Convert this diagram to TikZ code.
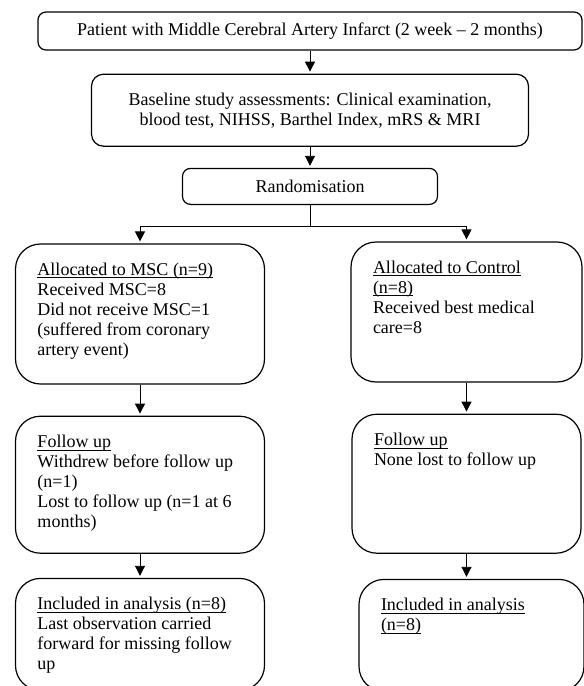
\documentclass[tikz,border=0pt]{standalone}
\usepackage{fontspec}
\setmainfont{Liberation Serif}
\usetikzlibrary{arrows.meta,positioning}

\newcommand{\paneltext}[3]{\parbox[t][#2][t]{#1}{\raggedright #3}}
\newcommand{\undl}[1]{\leavevmode\setbox0\hbox{#1}\rlap{\rule[-2.8pt]{\wd0}{0.8pt}}\box0}

\tikzset{
  box/.style={draw, line width=1.2pt, align=center, inner sep=0pt},
  panel/.style={draw, line width=1.2pt, rounded corners=25pt, inner xsep=22pt, inner ysep=19pt},
  arr/.style={-{Triangle[width=10pt,length=10pt]}, line width=0.9pt, shorten >=2pt}
}

\begin{document}
\begin{tikzpicture}[x=1pt, y=-1pt, font=\fontsize{18}{20}\selectfont]
  \useasboundingbox (0,0) rectangle (584,686);

  % top column
  \node[box, rounded corners=8pt, minimum width=544pt, minimum height=38pt] (PAT) at (310,31)
    {Patient with Middle Cerebral Artery Infarct (2 week – 2 months)};
  \node[box, rounded corners=12pt, minimum width=437pt, minimum height=72pt, below=23pt of PAT] (BASE)
    {Baseline study assessments: Clinical examination,\\blood test, NIHSS, Barthel Index, mRS \& MRI};
  \node[box, rounded corners=8pt, minimum width=255pt, minimum height=36pt, below=21pt of BASE] (RAND)
    {Randomisation};

  % two arms
  \node[panel] (MSC) at (140,314)
    {\paneltext{205pt}{102pt}{\undl{Allocated to MSC (n=9)}\\Received MSC=8\\Did not receive MSC=1\\(suffered from coronary\\artery event)}};
  \node[panel] (CTRL) at (466.5,312)
    {\paneltext{187pt}{102pt}{\undl{Allocated to Control}\\\undl{(n=8)}\\Received best medical\\care=8}};

  \node[panel, below=31pt of MSC] (FUM)
    {\paneltext{205pt}{99pt}{\undl{Follow up}\\Withdrew before follow up\\(n=1)\\Lost to follow up (n=1 at 6\\months)}};
  \node[panel, below=31pt of CTRL] (FUC)
    {\paneltext{185pt}{101pt}{\undl{Follow up}\\None lost to follow up}};

  \node[panel, below=24pt of FUM] (ANM)
    {\paneltext{205pt}{74pt}{\undl{Included in analysis (n=8)}\\Last observation carried\\forward for missing follow\\up}};
  \node[panel, below=25pt of FUC, xshift=5pt] (ANC)
    {\paneltext{181pt}{74pt}{\undl{Included in analysis}\\\undl{(n=8)}}};

  % connectors
  \draw[arr] (PAT) -- (BASE);
  \draw[arr] (BASE) -- (RAND);
  \draw[arr] (RAND.south) -- ++(0,21) -| (MSC.north);
  \draw[arr] (RAND.south) -- ++(0,21) -| (CTRL.north);
  \draw[arr] (MSC) -- (FUM);
  \draw[arr] (CTRL) -- (FUC);
  \draw[arr] (FUM) -- (ANM);
  \draw[arr] (FUC) -- (FUC |- ANC.north);
\end{tikzpicture}
\end{document}
